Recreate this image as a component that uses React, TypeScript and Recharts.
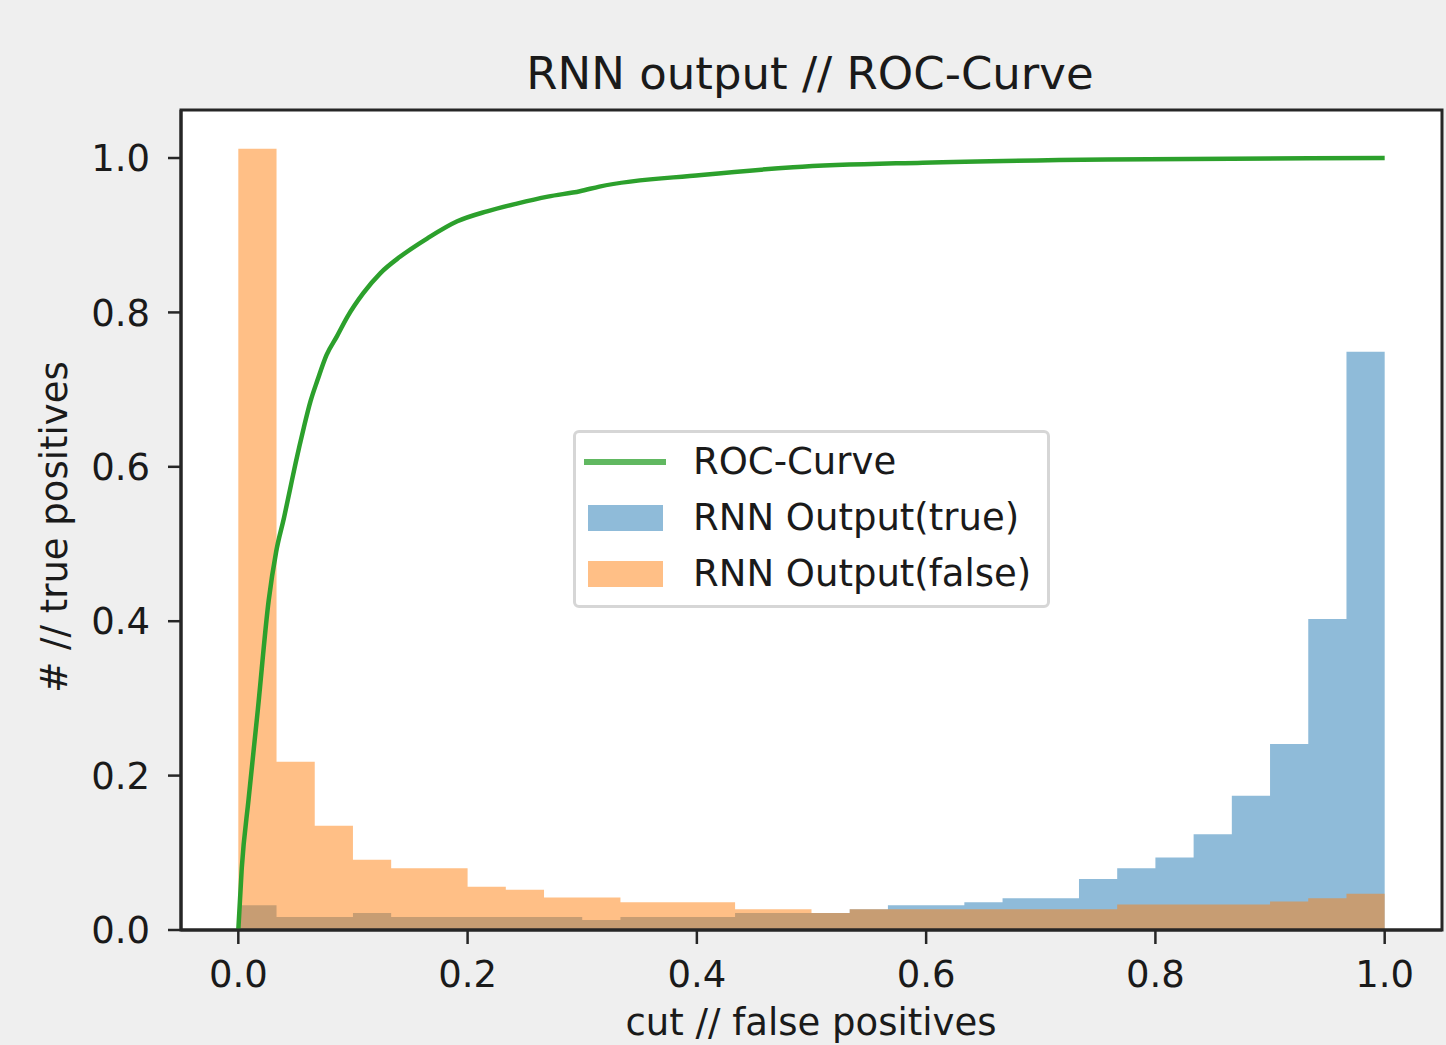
import React from 'react';
import { ComposedChart, Area, Line, XAxis, YAxis, ReferenceArea, Legend, Label } from 'recharts';

const BIN_COUNT = 30;
const trueCounts = [0.032, 0.017, 0.017, 0.022, 0.017, 0.017, 0.017, 0.017, 0.017, 0.013, 0.017, 0.017, 0.017, 0.022, 0.022, 0.022, 0.027, 0.032, 0.032, 0.036, 0.041, 0.041, 0.066, 0.080, 0.094, 0.124, 0.174, 0.241, 0.403, 0.749];
const falseCounts = [1.012, 0.218, 0.135, 0.091, 0.080, 0.080, 0.056, 0.052, 0.042, 0.042, 0.036, 0.036, 0.036, 0.027, 0.027, 0.022, 0.027, 0.027, 0.027, 0.027, 0.027, 0.027, 0.027, 0.033, 0.033, 0.033, 0.033, 0.037, 0.041, 0.047];
const rocFpr = [0, 0.003, 0.009, 0.017, 0.0265, 0.033, 0.04, 0.045, 0.05, 0.057, 0.063, 0.069, 0.077, 0.086, 0.095, 0.109, 0.124, 0.141, 0.165, 0.191, 0.217, 0.243, 0.27, 0.298, 0.315, 0.404, 0.484, 0.597, 0.758, 1.0];
const rocTpr = [0, 0.08, 0.17, 0.285, 0.427, 0.49, 0.535, 0.57, 0.605, 0.65, 0.685, 0.712, 0.745, 0.769, 0.794, 0.825, 0.851, 0.872, 0.896, 0.918, 0.931, 0.941, 0.95, 0.957, 0.963, 0.978, 0.988, 0.994, 0.998, 1.0];
const xTicks = [0, 0.2, 0.4, 0.6, 0.8, 1.0];
const yTicks = [0, 0.2, 0.4, 0.6, 0.8, 1.0];

const X_DOMAIN: [number, number] = [-0.05, 1.05];
const Y_MAX = 1.0622;

const C_TRUE = '#1f77b4';
const C_FALSE = '#ff7f0e';
const C_ROC = '#2ca02c';
const FONT = '"DejaVu Sans", sans-serif';
const DARK = '#262626';

function toStep(vals: number[]) {
  const pts = vals.map((v, i) => ({ x: i / BIN_COUNT, y: v }));
  pts.push({ x: 1, y: vals[vals.length - 1] });
  return pts;
}

const trueData = toStep(trueCounts);
const falseData = toStep(falseCounts);
const rocData = rocFpr.map((x, i) => ({ x, y: rocTpr[i] }));

const LEGEND_ORDER = ['ROC-Curve', 'RNN Output(true)', 'RNN Output(false)'];

function renderLegend(props: any) {
  const payload = (props && props.payload) || [];
  const items = LEGEND_ORDER.map((name) => {
    const p = payload.find((e: any) => e.value === name);
    return { name, color: p ? p.color : '#000', type: name === 'ROC-Curve' ? 'line' : 'patch' };
  });
  return (
    <div
      style={{
        width: 477,
        height: 178,
        boxSizing: 'border-box',
        border: '3px solid #d6d6d6',
        borderRadius: 6,
        background: 'rgba(255,255,255,0.8)',
        position: 'relative',
        fontFamily: FONT,
        fontSize: 37,
        color: '#1a1a1a',
      }}
    >
      {items.map((it, i) => (
        <div
          key={it.name}
          style={{ position: 'absolute', left: 0, top: 1 + i * 56, height: 56, width: '100%', display: 'flex', alignItems: 'center' }}
        >
          {it.type === 'line' ? (
            <div style={{ position: 'absolute', left: 8, width: 82, height: 6, top: 25, background: it.color, opacity: 0.75 }} />
          ) : (
            <div style={{ position: 'absolute', left: 12, width: 75, height: 26, top: 15, background: it.color, opacity: 0.5 }} />
          )}
          <span style={{ position: 'absolute', left: 117, whiteSpace: 'nowrap', lineHeight: '56px' }}>{it.name}</span>
        </div>
      ))}
    </div>
  );
}

export default function App() {
  return (
    <div style={{ position: 'absolute', left: 0, top: 0, width: 1446, height: 1045, background: '#efefef', overflow: 'hidden' }}>
      <svg width={1446} height={1045} style={{ position: 'absolute', left: 0, top: 0, pointerEvents: 'none' }}>
        <text x={810} y={89} textAnchor="middle" fontFamily={FONT} fontSize={45} fill="#1a1a1a">
          RNN output // ROC-Curve
        </text>
      </svg>
      <div style={{ position: 'absolute', left: 0, top: 0 }}>
        <ComposedChart width={1446} height={1045} margin={{ top: 110, right: 4, bottom: 0, left: 0 }}>
          <rect x={181} y={110} width={1261} height={820} fill="#ffffff" />
          <XAxis
            type="number"
            dataKey="x"
            domain={X_DOMAIN}
            allowDataOverflow
            ticks={xTicks}
            tickFormatter={(v: number) => v.toFixed(1)}
            height={115}
            tickSize={14}
            tickMargin={17}
            axisLine={{ stroke: DARK, strokeWidth: 3 }}
            tickLine={{ stroke: DARK, strokeWidth: 2.5 }}
            tick={{ fontSize: 37, fill: '#1a1a1a', fontFamily: FONT }}
            interval={0}
          >
            <Label
              content={() => (
                <text x={811} y={1035} textAnchor="middle" fontFamily={FONT} fontSize={37} fill="#1a1a1a">
                  cut // false positives
                </text>
              )}
            />
          </XAxis>
          <YAxis
            type="number"
            domain={[0, Y_MAX]}
            allowDataOverflow
            ticks={yTicks}
            tickFormatter={(v: number) => v.toFixed(1)}
            width={181}
            tickSize={13}
            tickMargin={18}
            axisLine={{ stroke: DARK, strokeWidth: 3 }}
            tickLine={{ stroke: DARK, strokeWidth: 2.5 }}
            tick={{ fontSize: 37, fill: '#1a1a1a', fontFamily: FONT }}
            interval={0}
          >
            <Label
              content={() => (
                <text
                  x={67}
                  y={527}
                  textAnchor="middle"
                  transform="rotate(-90, 67, 527)"
                  fontFamily={FONT}
                  fontSize={37}
                  fill="#1a1a1a"
                >
                  # // true positives
                </text>
              )}
            />
          </YAxis>
          <Area
            data={trueData}
            dataKey="y"
            name="RNN Output(true)"
            type="stepAfter"
            stroke="none"
            fill={C_TRUE}
            fillOpacity={0.5}
            isAnimationActive={false}
            activeDot={false}
            dot={false}
          />
          <Area
            data={falseData}
            dataKey="y"
            name="RNN Output(false)"
            type="stepAfter"
            stroke="none"
            fill={C_FALSE}
            fillOpacity={0.5}
            isAnimationActive={false}
            activeDot={false}
            dot={false}
          />
          <Line
            data={rocData}
            dataKey="y"
            name="ROC-Curve"
            type="monotone"
            stroke={C_ROC}
            strokeWidth={4.5}
            dot={false}
            activeDot={false}
            isAnimationActive={false}
          />
          <ReferenceArea
            x1={X_DOMAIN[0]}
            x2={X_DOMAIN[1]}
            y1={0}
            y2={Y_MAX}
            fill="none"
            stroke={DARK}
            strokeWidth={3}
            ifOverflow="visible"
          />
          <Legend
            layout="vertical"
            align="center"
            verticalAlign="middle"
            content={renderLegend}
            wrapperStyle={{ position: 'absolute', left: 573, top: 430, width: 477, height: 178, margin: 0, padding: 0 }}
          />
        </ComposedChart>
      </div>
    </div>
  );
}
